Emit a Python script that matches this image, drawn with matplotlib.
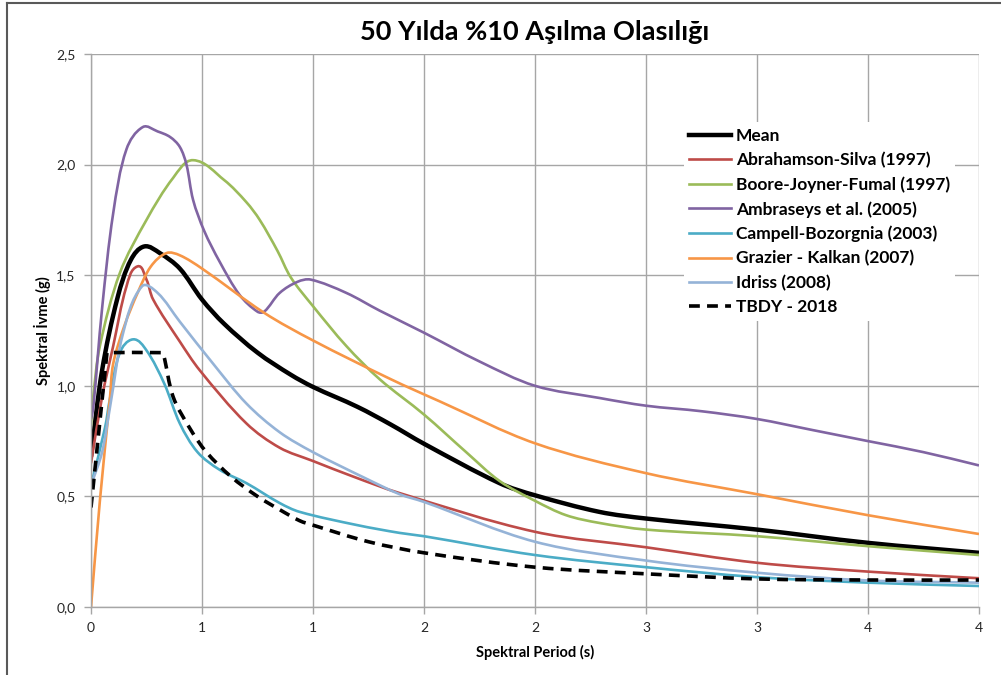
import matplotlib
matplotlib.use("Agg")
import numpy as np
import matplotlib.pyplot as plt
from matplotlib.lines import Line2D
from matplotlib.path import Path
from matplotlib.patches import PathPatch
from matplotlib.ticker import FixedLocator

plt.rcParams['font.family'] = ['Lato', 'DejaVu Sans']

# periods (s) and spectral accelerations (g)
mean_T = [0, 0.05, 0.12, 0.18, 0.24, 0.31, 0.40, 0.50, 0.60, 0.75, 0.90, 1.0, 1.20, 1.35, 1.5, 1.84, 2.0, 2.29, 2.5, 3.0, 3.5, 4.0]
mean_Sa = [0.68, 1.07, 1.40, 1.57, 1.63, 1.60, 1.53, 1.39, 1.28, 1.15, 1.05, 0.995, 0.905, 0.825, 0.738, 0.56, 0.505, 0.43, 0.40, 0.35, 0.29, 0.245]

as_T = [0, 0.05, 0.1, 0.16, 0.21, 0.25, 0.28, 0.40, 0.49, 0.70, 0.85, 1.0, 1.18, 1.39, 2.0, 2.5, 3.0, 3.5, 4.0]
as_Sa = [0.65, 0.95, 1.18, 1.45, 1.54, 1.48, 1.39, 1.20, 1.07, 0.83, 0.72, 0.66, 0.59, 0.515, 0.34, 0.27, 0.20, 0.16, 0.13]

bjf_T = [0, 0.01, 0.04, 0.13, 0.25, 0.37, 0.46, 0.60, 0.70, 0.76, 0.84, 0.90, 1.0, 1.15, 1.30, 1.5, 1.69, 1.84,
         2.0, 2.14, 2.29, 2.5, 3.0, 3.5, 4.0]
bjf_Sa = [0.82, 0.95, 1.18, 1.51, 1.75, 1.94, 2.02, 1.93, 1.83, 1.75, 1.61, 1.49, 1.36, 1.18, 1.03, 0.87, 0.70, 0.57,
          0.48, 0.415, 0.38, 0.35, 0.32, 0.275, 0.235]

amb_T = [0, 0.01, 0.05, 0.1, 0.16, 0.234, 0.30, 0.356, 0.40, 0.43, 0.46, 0.51, 0.58, 0.67, 0.75, 0.78, 0.85, 0.93, 0.99,
         1.15, 1.30, 1.5, 1.75, 2.0, 2.29, 2.5, 2.75, 3.0, 3.25, 3.5, 3.75, 4.0]
amb_Sa = [0.85, 0.90, 1.35, 1.78, 2.07, 2.17, 2.15, 2.125, 2.08, 2.00, 1.84, 1.70, 1.56, 1.41, 1.335, 1.335, 1.42, 1.47, 1.48,
          1.42, 1.34, 1.24, 1.11, 1.00, 0.945, 0.91, 0.885, 0.85, 0.80, 0.75, 0.70, 0.64]

cb_T = [0, 0.063, 0.085, 0.13, 0.19, 0.25, 0.33, 0.40, 0.48, 0.58, 0.70, 0.85, 0.94, 1.2, 1.39, 1.5, 2.0, 2.5, 3.0, 3.5, 4.0]
cb_Sa = [0.55, 0.81, 0.94, 1.15, 1.21, 1.16, 1.01, 0.83, 0.70, 0.62, 0.56, 0.47, 0.43, 0.37, 0.335, 0.32, 0.235, 0.18, 0.135, 0.11, 0.095]

gk_T = [0, 0.04, 0.085, 0.1, 0.15, 0.21, 0.27, 0.34, 0.40, 0.50, 0.78, 1.0, 1.35, 1.57, 2.0, 2.5, 3.0, 3.5, 4.0]
gk_Sa = [0.0, 0.48, 0.94, 1.10, 1.27, 1.42, 1.54, 1.60, 1.59, 1.53, 1.33, 1.205, 1.03, 0.93, 0.74, 0.605, 0.51, 0.415, 0.33]

id_T = [0, 0.05, 0.085, 0.145, 0.23, 0.30, 0.40, 0.55, 0.70, 0.85, 1.0, 1.23, 1.39, 1.5, 2.0, 2.5, 3.0, 3.5, 4.0]
id_Sa = [0.55, 0.70, 0.90, 1.24, 1.45, 1.42, 1.29, 1.10, 0.92, 0.79, 0.70, 0.585, 0.51, 0.475, 0.295, 0.21, 0.155, 0.12, 0.11]

tbdy_T = [0, 0.072, 0.31, 0.325, 0.37, 0.45, 0.52, 0.63, 0.75, 0.85, 0.94, 1.0, 1.25, 1.5, 2.0, 2.5, 3.0, 3.5, 4.0]
tbdy_Sa = [0.45, 1.15, 1.15, 1.145, 0.95, 0.80, 0.70, 0.59, 0.50, 0.44, 0.39, 0.37, 0.295, 0.245, 0.18, 0.15, 0.127, 0.122, 0.122]

x_ticks = [0, 0.5, 1.0, 1.5, 2.0, 2.5, 3.0, 3.5, 4.0]
x_tick_labels = ['0', '1', '1', '2', '2', '3', '3', '4', '4']
y_ticks = [0, 0.5, 1.0, 1.5, 2.0, 2.5]
y_tick_labels = ['0,0', '0,5', '1,0', '1,5', '2,0', '2,5']


def smooth_line(ax, xs, ys, corners=(), **kw):
    """Draw a smoothed line through the points, like Excel's smoothed scatter."""
    p = np.column_stack([xs, ys]).astype(float)
    n = len(p)
    verts = [p[0]]
    codes = [Path.MOVETO]
    for i in range(n - 1):
        a, b = p[i], p[i + 1]
        seg = np.hypot(*(b - a))
        d0 = b - a if i in corners else p[min(i + 1, n - 1)] - p[max(i - 1, 0)]
        d1 = b - a if (i + 1) in corners else p[min(i + 2, n - 1)] - p[i]
        d0 = d0 / np.hypot(*d0)
        d1 = d1 / np.hypot(*d1)
        verts += [a + d0 * seg / 3, b - d1 * seg / 3, b]
        codes += [Path.CURVE4] * 3
    patch = PathPatch(Path(verts, codes), fill=False, transform=ax.transData, **kw)
    ax.add_patch(patch)


fig = plt.figure(figsize=(10.01, 6.75), dpi=100)
ax = fig.add_axes([91 / 1001, 1 - 607 / 675, 888 / 1001, 553 / 675])

series = [
    (mean_T, mean_Sa, 'black', 3.2, '-', 'Mean', ()),
    (as_T, as_Sa, '#BE4B48', 1.9, '-', 'Abrahamson-Silva (1997)', ()),
    (bjf_T, bjf_Sa, '#9BBB59', 1.9, '-', 'Boore-Joyner-Fumal (1997)', ()),
    (amb_T, amb_Sa, '#8064A2', 1.9, '-', 'Ambraseys et al. (2005)', ()),
    (cb_T, cb_Sa, '#4BACC6', 1.9, '-', 'Campell-Bozorgnia (2003)', ()),
    (gk_T, gk_Sa, '#F79646', 1.9, '-', 'Grazier - Kalkan (2007)', ()),
    (id_T, id_Sa, '#95B3D7', 1.9, '-', 'Idriss (2008)', ()),
    (tbdy_T, tbdy_Sa, 'black', 2.6, (0, (3, 2)), 'TBDY - 2018', (1,)),
]

handles = []
for xs, ys, col, lw, ls, lab, corners in series:
    smooth_line(ax, xs, ys, corners=corners, edgecolor=col, lw=lw, linestyle=ls,
                capstyle='butt', joinstyle='round')
    handles.append(Line2D([], [], color=col, lw=lw, ls=ls, label=lab))

ax.set_xlim(0, 4)
ax.set_ylim(0, 2.5)
ax.xaxis.set_major_locator(FixedLocator(x_ticks))
ax.yaxis.set_major_locator(FixedLocator(y_ticks))
ax.set_xticklabels(x_tick_labels)
ax.set_yticklabels(y_tick_labels)
ax.grid(True, color='#a6a6a6', lw=1.0)
ax.set_axisbelow(True)
for s in ['top', 'right']:
    ax.spines[s].set_visible(False)
for s in ['left', 'bottom']:
    ax.spines[s].set_color('#a6a6a6')
    ax.spines[s].set_linewidth(1.0)
ax.tick_params(axis='both', direction='out', length=5, width=1, color='#a6a6a6',
               labelsize=10, labelcolor='#262626', pad=6)

ax.set_xlabel('Spektral Period (s)', fontsize=10.5, fontweight='bold', labelpad=8)
ax.set_ylabel('Spektral İvme (g)', fontsize=10.5, fontweight='bold', labelpad=4)
ax.set_title('50 Yılda %10 Aşılma Olasılığı', fontsize=19.5, fontweight='bold', pad=10)

leg = ax.legend(handles=handles, loc='upper left', bbox_to_anchor=(0.658, 0.892), frameon=True, fancybox=False,
                edgecolor='none', facecolor='white', framealpha=1, prop={'size': 12.5, 'weight': 'bold'},
                handlelength=2.4, labelspacing=0.47, borderpad=0.3, handletextpad=0.3)

# chart border (top and left edges visible in the crop)
fig.add_artist(Line2D([7 / 1001, 1], [1 - 3 / 675, 1 - 3 / 675], color='#595959', lw=1.5))
fig.add_artist(Line2D([7 / 1001, 7 / 1001], [0, 1 - 3 / 675], color='#595959', lw=1.5))

fig.savefig('out.png', dpi=100)
